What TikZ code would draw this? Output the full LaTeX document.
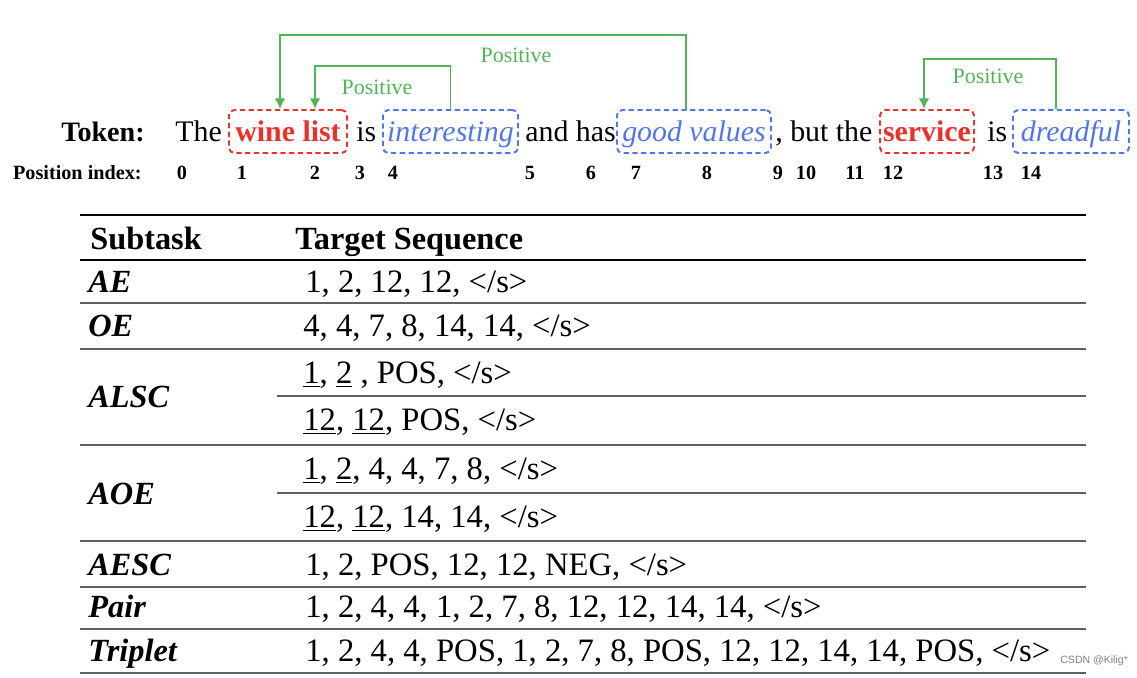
\documentclass[tikz,border=0pt]{standalone}
\usepackage{fontspec}
\setmainfont{Liberation Serif}
\newfontfamily\wmfont{Liberation Sans}
\usetikzlibrary{arrows.meta}
\definecolor{posgreen}{RGB}{84,178,88}
\definecolor{aspred}{RGB}{232,50,44}
\definecolor{opblue}{RGB}{82,118,232}
\definecolor{rulegray}{RGB}{95,95,95}

\begin{document}
\begin{tikzpicture}[x=0.02cm,y=-0.02cm,
  tok/.style={anchor=base west,inner sep=0,font=\fontsize{17}{20}\selectfont},
  aspbox/.style={draw=#1,dash pattern=on 3pt off 2pt,line width=1.1pt,rounded corners=3pt,
    minimum height=0.86cm,inner sep=0,text height=13pt,text depth=2pt,font=\fontsize{17}{20}\selectfont},
  idx/.style={inner sep=0,font=\fontsize{11.5}{13}\selectfont\bfseries},
  posarrow/.style={draw=posgreen,line width=1.1pt,-{Latex[length=6pt,width=6pt]}},
  poslabel/.style={text=posgreen,inner sep=0,font=\fontsize{12.5}{14}\selectfont},
  cell/.style={anchor=base west,inner sep=0,font=\fontsize{18.6}{22}\selectfont},
  task/.style={anchor=base west,inner sep=0,font=\fontsize{18.4}{22}\selectfont\bfseries\itshape},
  thickrule/.style={line width=1.2pt},
  thinrule/.style={draw=rulegray,line width=0.8pt}]
\useasboundingbox (0,0) rectangle (1137,678);

% sentence
\node[tok,anchor=base east,font=\fontsize{16}{19}\selectfont\bfseries] (token) at (145,142) {Token:};
\node[tok] (the) at (175,142) {The};
\node[aspbox=aspred,minimum width=2.36cm,text=aspred] (wine) at (288,131.5) {\textbf{wine list}};
\node[tok] (is1) at (356,142) {is};
\node[aspbox=opblue,minimum width=2.7cm,text=opblue] (interesting) at (450.5,131.5) {\textit{interesting}};
\node[tok] (andhas) at (525,142) {and has};
\node[aspbox=opblue,minimum width=3.08cm,text=opblue] (good) at (694,131.5) {\textit{good values}};
\node[tok] (butthe) at (775,142) {, but the};
\node[aspbox=aspred,minimum width=1.88cm,text=aspred] (service) at (927,131.5) {\textbf{service}};
\node[tok] (is2) at (987,142) {is};
\node[aspbox=opblue,minimum width=2.32cm,text=opblue] (dreadful) at (1071,131.5) {\textit{dreadful}};

\node[idx,anchor=east] (posidx) at (142,173) {Position index:};
\foreach \i/\x in {0/182,1/242,2/315,3/360,4/393,5/530,6/591,7/636,8/707,9/778,10/806,11/855,12/893,13/993,14/1031}
  \node[idx] (p\i) at (\x,173) {\i};

% opinion links
\coordinate (w1) at (315,0);
\coordinate (w2) at (280,0);
\coordinate (g1) at (686,0);
\coordinate (s1) at (924,0);
\coordinate (d1) at (1056,0);
\draw[posarrow] (interesting.north) -- ++(0,-43) -| (wine.north -| w1);
\draw[posarrow] (good.north -| g1) -- ++(0,-74) -| (wine.north -| w2);
\draw[posarrow] (dreadful.north -| d1) -- ++(0,-50) -| (service.north -| s1);
\node[poslabel] (lab1) at (377,87) {Positive};
\node[poslabel] (lab2) at (516,55) {Positive};
\node[poslabel] (lab3) at (988,76) {Positive};

% table
\draw[thickrule] (80,215) -- (1086,215);
\draw[line width=0.9pt] (80,260) -- (1086,260);
\draw[thinrule] (80,303) -- (1086,303);
\draw[thinrule] (80,349) -- (1086,349);
\draw[thinrule] (277,396) -- (1086,396);
\draw[thinrule] (80,445) -- (1086,445);
\draw[thinrule] (277,493) -- (1086,493);
\draw[thinrule] (80,541) -- (1086,541);
\draw[thinrule] (80,587) -- (1086,587);
\draw[thinrule] (80,629) -- (1086,629);
\draw[thinrule,line width=1.2pt] (80,673) -- (1086,673);

\node[cell,font=\fontsize{18.4}{22}\selectfont\bfseries] (hsub) at (90,250) {Subtask};
\node[cell,font=\fontsize{18.4}{22}\selectfont\bfseries] (hseq) at (295,250) {Target Sequence};

\node[task] (ae) at (88,293) {AE};
\node[task] (oe) at (88,337) {OE};
\node[task] (alsc) at (88,408) {ALSC};
\node[task] (aoe) at (88,505) {AOE};
\node[task] (aesc) at (88,576) {AESC};
\node[task] (pair) at (88,618) {Pair};
\node[task] (triplet) at (88,662) {Triplet};

\node[cell] (sae) at (305,293) {1, 2, 12, 12, </s>};
\node[cell] (soe) at (303,337) {4, 4, 7, 8, 14, 14, </s>};
\node[cell] (salsca) at (303,384) {\underline{1}, \underline{2} , POS, </s>};
\node[cell] (salscb) at (303,431) {\underline{12}, \underline{12}, POS, </s>};
\node[cell] (saoea) at (303,480) {\underline{1}, \underline{2}, 4, 4, 7, 8, </s>};
\node[cell] (saoeb) at (303,528) {\underline{12}, \underline{12}, 14, 14, </s>};
\node[cell] (saesc) at (305,576) {1, 2, POS, 12, 12, NEG, </s>};
\node[cell] (spair) at (305,618) {1, 2, 4, 4, 1, 2, 7, 8, 12, 12, 14, 14, </s>};
\node[cell] (strip) at (305,662) {1, 2, 4, 4, POS, 1, 2, 7, 8, POS, 12, 12, 14, 14, POS, </s>};

\node[anchor=base west,inner sep=0,text=gray,font=\wmfont\fontsize{6}{7}\selectfont] (wm) at (1060,664) {CSDN @Kilig*};
\end{tikzpicture}
\end{document}
